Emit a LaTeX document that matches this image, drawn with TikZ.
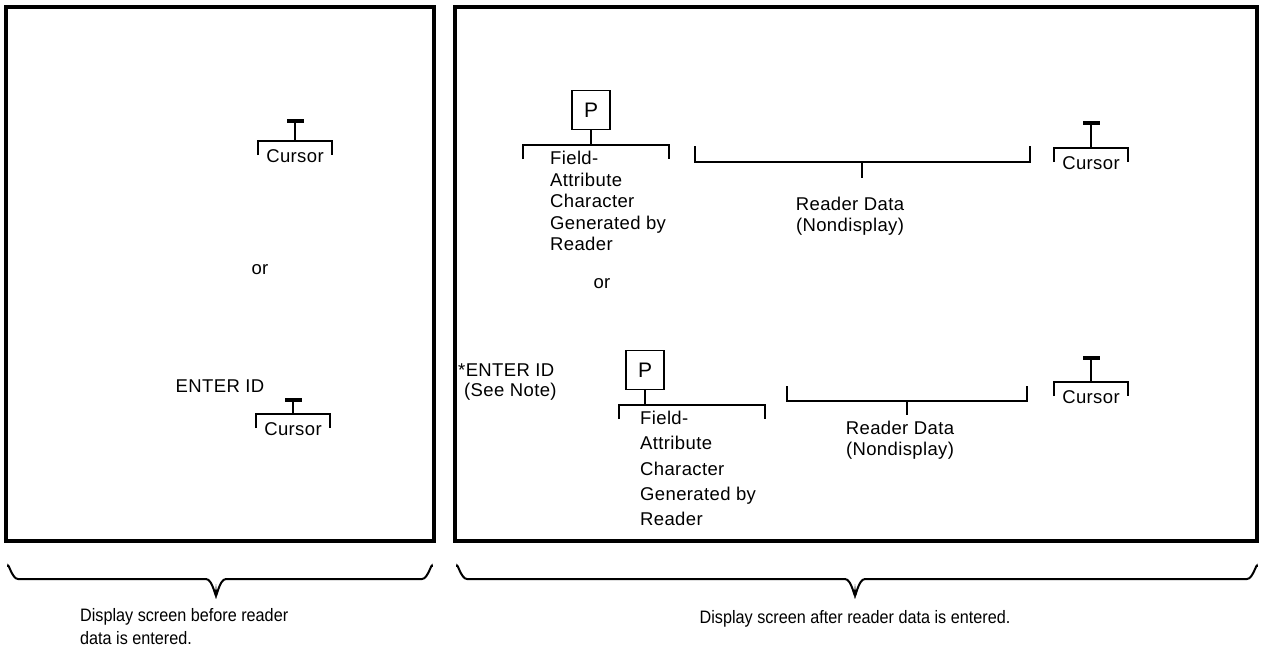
\documentclass[tikz,border=0pt]{standalone}
\usepackage{fontspec}
\setmainfont{Liberation Sans}
\newfontfamily\labfont[LetterSpace=2]{Liberation Sans}
\newfontfamily\capfont[FakeStretch=0.9]{Liberation Sans}
\usetikzlibrary{calc}
\tikzset{
  frame/.style={line width=3.2pt},
  ln/.style={line width=1.8pt},
  curbar/.style={fill=black, minimum width=17pt, minimum height=3.5pt, inner sep=0pt},
  lab/.style={font=\labfont\fontsize{18.5}{21.5}\selectfont, inner sep=0pt},
  labw/.style={font=\labfont\fontsize{18.5}{25.3}\selectfont, inner sep=0pt},
  pbox/.style={draw, line width=1.8pt, minimum width=38pt, minimum height=39pt, inner sep=0pt, font=\labfont\fontsize{21}{24}\selectfont},
  capt/.style={font=\capfont\fontsize{18}{23}\selectfont, inner sep=0pt},
  brace/.style={line width=2pt}
}
\newcommand\mkcursor[4]{%
  \node[curbar] (#1bar) at (#2,#3) {};
  \coordinate (#1br) at (#2,#4);
  \draw[ln] (#1bar.south) -- (#1br);
  \draw[ln] ($(#1br)+(-37,14)$) -- ++(0,-14) -- ++(74,0) -- ++(0,14);
  \node[lab] (#1txt) at ($(#1br)+(0,15)$) {Cursor};
}
\begin{document}
\begin{tikzpicture}[x=1pt,y=-1pt]
\useasboundingbox (0,0) rectangle (1262,651);
% frames
\node[draw, frame, minimum width=428pt, minimum height=534pt, inner sep=0pt] (leftscr) at (220,274) {};
\node[draw, frame, minimum width=802pt, minimum height=534pt, inner sep=0pt] (rightscr) at (856,274) {};

% left screen
\mkcursor{lc1}{295}{121}{141}
\node[lab] (lor) at (260,270) {or};
\node[lab] (lenter) at (220,386) {ENTER ID};
\mkcursor{lc2}{293}{400}{414}

% right screen, upper
\node[pbox] (p1) at (591,110) {P};
\coordinate (p1br) at (591,145);
\draw[ln] (p1.south) -- (p1br);
\draw[ln] (523,159) |- (669,145) -- (669,159);
\node[lab, align=left, anchor=north west] (fa1) at (550,151) {Field-\\Attribute\\Character\\Generated by\\Reader};
\draw[ln] (695,146) |- (1030,162) -- (1030,146);
\coordinate (rd1br) at (862,162);
\node[lab, align=center] (rd1) at (850,216) {Reader Data\\(Nondisplay)};
\draw[ln] (rd1br) -- ($(rd1br)+(0,16)$);
\mkcursor{rc1}{1091}{123}{148}
\node[lab] (ror) at (602,284) {or};

% right screen, lower
\node[lab, anchor=west] (renter) at (458,370) {*ENTER ID};
\node[lab, anchor=west] (rnote) at (464,392) {(See Note)};
\node[pbox] (p2) at (645,370) {P};
\coordinate (p2br) at (645,405);
\draw[ln] (p2.south) -- (p2br);
\draw[ln] (619,419) |- (765,405) -- (765,419);
\node[labw, align=left, anchor=north west] (fa2) at (640,411) {Field-\\Attribute\\Character\\Generated by\\Reader};
\draw[ln] (787,386) |- (1027,401) -- (1027,386);
\coordinate (rd2br) at (907,401);
\node[lab, align=center] (rd2) at (900,440) {Reader Data\\(Nondisplay)};
\draw[ln] (rd2br) -- ($(rd2br)+(0,14)$);
\mkcursor{rc2}{1091}{358}{382}

% braces
\draw[brace] (8,567) to[out=90,in=180] (18,579) -- (206,579) to[out=0,in=-90] (216,594) to[out=-90,in=180] (226,579) -- (422,579) to[out=0,in=90] (432,567);
\coordinate (ltip) at (216,594);
\draw[brace] (457,567) to[out=90,in=180] (467,579) -- (845,579) to[out=0,in=-90] (855,594) to[out=-90,in=180] (865,579) -- (1247,579) to[out=0,in=90] (1257,567);
\coordinate (rtip) at (855,594);

% captions
\node[capt, align=left, anchor=north west] (lcap) at (80,608) {Display screen before reader\\data is entered.};
\node[capt] (rcap) at (855,619) {Display screen after reader data is entered.};
\end{tikzpicture}
\end{document}
